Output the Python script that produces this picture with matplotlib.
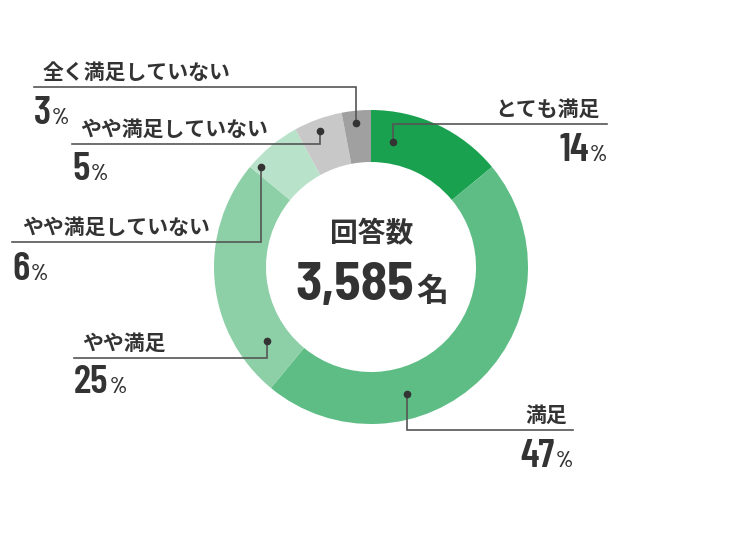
import matplotlib
matplotlib.use("Agg")
import matplotlib.pyplot as plt

# data
labels = ["とても満足", "満足", "やや満足", "やや満足していない",
          "やや満足していない", "全く満足していない"]
values = [14, 47, 25, 6, 5, 3]
colors = ["#1aa14f", "#5ebd85", "#8dcfa7", "#b8e2ca", "#c8c8c8", "#a0a0a0"]
total = 3585

# layout (pixels, y down): dot, elbow line y, line end x, text anchor x, side
dot_xy = [(393, 142), (407, 394), (267, 341), (261, 167), (320, 131), (356, 123)]
line_y = [124, 430, 358, 242, 144, 87]
line_end = [607, 573, 74, 12, 72, 34]
label_x = [600, 567, 82, 22, 80, 43]
pct_base = [161, 467, 393, 280, 180, 124]
side = ["r", "r", "l", "l", "l", "l"]

NUM_FONT = "Barlow Condensed"
BIG_FONT = "Barlow Semi Condensed"
JP = ["Noto Sans CJK JP", "DejaVu Sans"]
TXT = "#333333"

fig = plt.figure(figsize=(7.5, 5.35), dpi=100)
ax = fig.add_axes([0, 0, 1, 1])

cx, cy, R, r_in = 371, 267, 157, 105
ax.pie(values, colors=colors, startangle=-90, counterclock=True,
       center=(cx, cy), radius=R,
       wedgeprops=dict(width=R - r_in, linewidth=0))
ax.set_xlim(0, 750)
ax.set_ylim(535, 0)
ax.set_aspect("auto")
ax.axis("off")

renderer = fig.canvas.get_renderer()


def width_px(t):
    return t.get_window_extent(renderer=renderer).width


def pct_text(x, y, val, align, size=29, psize=16):
    num = ax.text(x, y, str(val), fontsize=size, fontweight="semibold",
                  family=NUM_FONT, color=TXT, va="baseline", ha="left")
    pc = ax.text(x, y, "%", fontsize=psize, fontweight="semibold",
                 family=NUM_FONT, color=TXT, va="baseline", ha="left")
    wn, wp = width_px(num), width_px(pc)
    if align == "l":
        pc.set_x(x + wn + 1)
    else:
        pc.set_x(x - wp)
        num.set_x(x - wp - 1 - wn)


for i, lab in enumerate(labels):
    dx, dy = dot_xy[i]
    ax.plot([dx, dx, line_end[i]], [dy, line_y[i], line_y[i]],
            color="#555555", lw=1.2, solid_joinstyle="miter")
    ax.plot(dx, dy, "o", color="#333333", ms=4.5)
    ha = "right" if side[i] == "r" else "left"
    ax.text(label_x[i], line_y[i] - 15, lab, fontsize=15, family=JP,
            fontweight="bold", color=TXT, ha=ha, va="center")
    pct_text(line_end[i], pct_base[i], values[i], side[i])

ax.text(cx + 1, 234, "回答数", fontsize=20, family=JP, fontweight="bold",
        color=TXT, ha="center", va="center")
n = ax.text(0, 300, f"{total:,}", fontsize=39, fontweight="bold",
            family=BIG_FONT, color=TXT, va="baseline", ha="left")
m = ax.text(0, 301, "名", fontsize=23, family=JP, fontweight="bold",
            color=TXT, va="baseline", ha="left")
wn, wm = width_px(n), width_px(m)
x0 = cx + 1 - (wn + 2 + wm) / 2
n.set_x(x0)
m.set_x(x0 + wn + 2)

fig.savefig("out.png", dpi=100, facecolor="white")
